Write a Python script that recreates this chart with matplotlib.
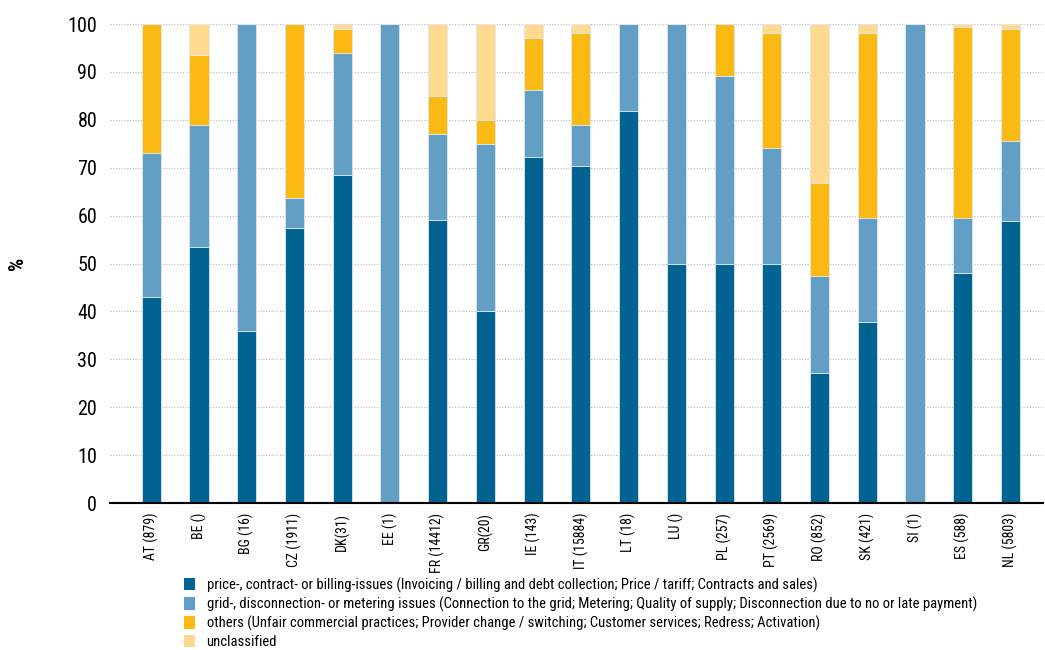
import matplotlib.pyplot as plt
from matplotlib.patches import Patch

plt.rcParams['font.family'] = ['Roboto Condensed', 'Liberation Sans', 'DejaVu Sans']

countries = ['AT (879)', 'BE ()', 'BG (16)', 'CZ (1911)', 'DK(31)', 'EE (1)', 'FR (14412)',
             'GR(20)', 'IE (143)', 'IT (15884)', 'LT (18)', 'LU ()', 'PL (257)', 'PT (2569)',
             'RO (852)', 'SK (421)', 'SI (1)', 'ES (588)', 'NL (5803)']

# share of complaints per category, in %
price = [43, 53.5, 36, 57.5, 68.5, 0, 59, 40, 72.2, 70.4, 81.8, 50, 50, 50, 27.1, 37.8, 0, 48, 58.8]
grid = [30, 25.5, 64, 6.2, 25.5, 100, 18, 35, 14, 8.6, 18.2, 50, 39.2, 24.2, 20.3, 21.8, 100, 11.6, 16.7]
others = [27, 14.5, 0, 36.3, 5, 0, 8, 5, 10.8, 19.1, 0, 0, 10.8, 23.9, 19.5, 38.5, 0, 39.8, 23.4]
unclassified = [0, 6.5, 0, 0, 1, 0, 15, 20, 3, 1.9, 0, 0, 0, 1.9, 33.1, 1.9, 0, 0.6, 1.1]

labels = ['price-, contract- or billing-issues (Invoicing / billing and debt collection; Price / tariff; Contracts and sales)',
          'grid-, disconnection- or metering issues (Connection to the grid; Metering; Quality of supply; Disconnection due to no or late payment)',
          'others (Unfair commercial practices; Provider change / switching; Customer services; Redress; Activation)',
          'unclassified']
colors = ['#006392', '#639ec4', '#fbb914', '#ffd98e']

fig = plt.figure(figsize=(10.45, 6.5), dpi=100)
ax = fig.add_axes([0.105, 0.226, 0.893, 0.737])

x = range(len(countries))
bottom = [0] * len(countries)
for vals, col in zip([price, grid, others, unclassified], colors):
    ax.bar(x, vals, width=0.4, bottom=bottom, color=col, edgecolor='#dde8f0',
           linewidth=0.6, zorder=3)
    bottom = [b + v for b, v in zip(bottom, vals)]

ax.set_ylim(0, 100)
ax.set_xlim(-0.87, 18.68)
ax.set_yticks(range(0, 101, 10))
ax.set_xticks(list(x))
ax.set_xticklabels(countries, rotation=90, fontsize=10)
ax.tick_params(axis='y', length=0, labelsize=14.5, pad=9)
ax.tick_params(axis='x', length=0, pad=7)
ax.yaxis.grid(True, color='#b5b5b5', linestyle=(0, (1, 1.5)), linewidth=0.8, zorder=0)
for side in ['top', 'right', 'left']:
    ax.spines[side].set_visible(False)
ax.spines['bottom'].set_linewidth(1.5)
ax.spines['bottom'].set_zorder(4)

fig.text(0.017, 0.595, '%', rotation=90, fontsize=15, fontweight='bold', va='center', ha='center')

handles = [Patch(facecolor=c, edgecolor='none') for c in colors]
fig.legend(handles, labels, loc='upper left', bbox_to_anchor=(0.176, 0.112), frameon=False,
           fontsize=10.5, handlelength=0.75, handleheight=0.95, handletextpad=0.8,
           labelspacing=0.26, borderaxespad=0, borderpad=0)

fig.savefig('out.png', dpi=100)
